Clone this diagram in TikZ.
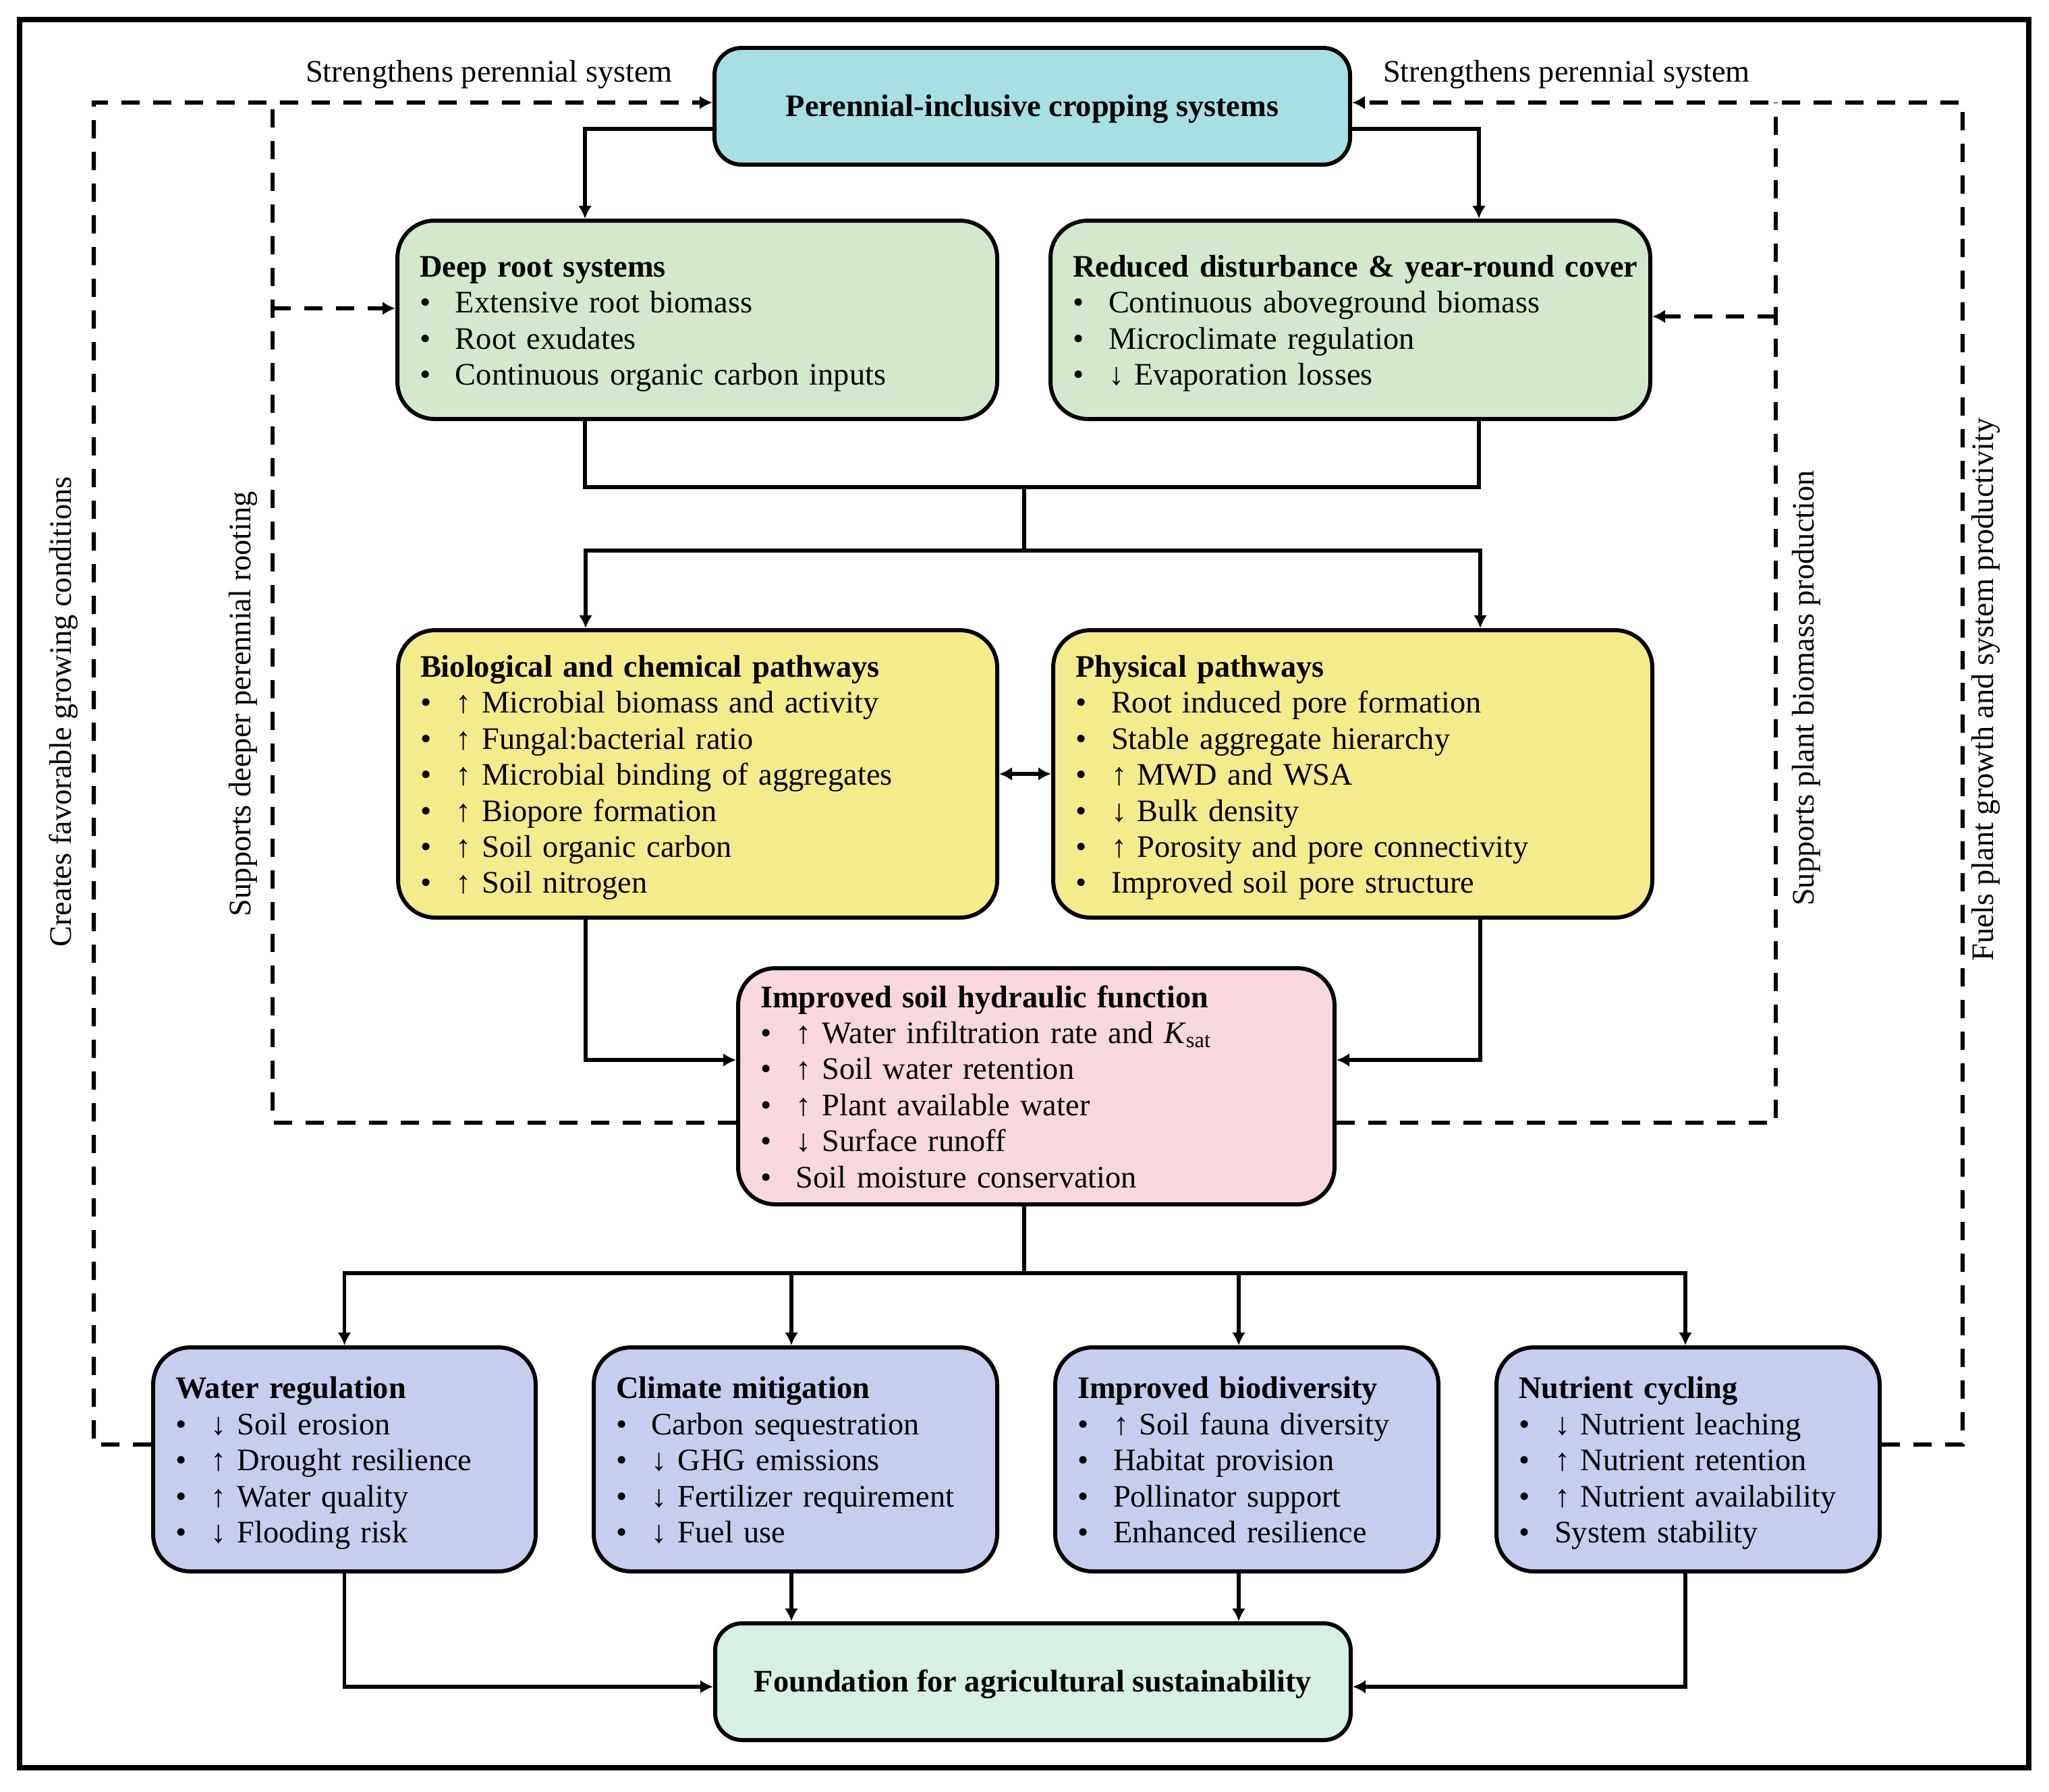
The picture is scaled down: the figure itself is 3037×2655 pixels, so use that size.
\documentclass[tikz,border=0pt]{standalone}
\usepackage{fontspec}
\setmainfont{Liberation Serif}
\usetikzlibrary{arrows.meta}
\definecolor{topc}{RGB}{167,223,226}
\definecolor{greenc}{RGB}{212,232,204}
\definecolor{yellc}{RGB}{244,235,141}
\definecolor{pinkc}{RGB}{248,215,221}
\definecolor{bluec}{RGB}{199,205,238}
\definecolor{foundc}{RGB}{214,240,227}
\newcommand{\itm}{\makebox[5.3mm][l]{\textbullet}}
\newcommand{\up}{↑ }
\newcommand{\dn}{↓ }
\newcommand{\fs}{\fontsize{13.2}{15.2}\selectfont}
\newcommand{\hd}[1]{\mbox{\textbf{#1}}}
\begin{document}
\begin{tikzpicture}[x=0.1mm,y=-0.1mm,
  box/.style={draw, line width=1.7pt, rounded corners=5.5mm, inner xsep=3.3mm, inner ysep=0pt,
    align=left, font=\fs, execute at begin node=\rule{0pt}{14pt}, execute at end node=\strut},
  tbox/.style={draw, line width=1.7pt, rounded corners=4mm, inner sep=0pt,
    align=center, font=\fs\bfseries, execute at begin node=\rule{0pt}{11.5pt}},
  lbl/.style={inner sep=0pt, font=\fs},
  tip/.tip={Latex[length=1.9mm,width=2mm]},
  conn/.style={line width=1.45pt, -tip},
  bconn/.style={line width=1.45pt, tip-tip},
  plain/.style={line width=1.45pt},
  dsh/.style={line width=1.8pt, dash pattern=on 2.7mm off 2mm},
  dsharr/.style={line width=1.8pt, dash pattern=on 2.7mm off 2mm, -tip}
]
\useasboundingbox (0,0) rectangle (3037,2655);
\draw[line width=2.2pt] (29,29) rectangle (3007,2620);

% boxes
\node[tbox, fill=topc, minimum width=94.2mm, minimum height=17.3mm] (top) at (1530,157.5)
  {Perennial-inclusive cropping systems};
\node[box, fill=greenc, minimum width=88.9mm, minimum height=29.4mm, text width=82.3mm] (deep) at (1033.5,474)
  {\hd{Deep root systems}\\
   \itm Extensive root biomass\\
   \itm Root exudates\\
   \itm Continuous organic carbon inputs};
\node[box, fill=greenc, minimum width=88.9mm, minimum height=29.4mm, text width=82.3mm] (red) at (2001.5,474)
  {\hd{Reduced disturbance \& year-round cover}\\
   \itm Continuous aboveground biomass\\
   \itm Microclimate regulation\\
   \itm \dn Evaporation losses};
\node[box, fill=yellc, minimum width=88.8mm, minimum height=42.6mm, text width=82.2mm] (bio) at (1034,1147)
  {\hd{Biological and chemical pathways}\\
   \itm \up Microbial biomass and activity\\
   \itm \up Fungal:bacterial ratio\\
   \itm \up Microbial binding of aggregates\\
   \itm \up Biopore formation\\
   \itm \up Soil organic carbon\\
   \itm \up Soil nitrogen};
\node[box, fill=yellc, minimum width=88.8mm, minimum height=42.6mm, text width=82.2mm] (phys) at (2005,1147)
  {\hd{Physical pathways}\\
   \itm Root induced pore formation\\
   \itm Stable aggregate hierarchy\\
   \itm \up MWD and WSA\\
   \itm \dn Bulk density\\
   \itm \up Porosity and pore connectivity\\
   \itm Improved soil pore structure};
\node[box, fill=pinkc, minimum width=88.4mm, minimum height=35mm, text width=81.8mm] (pink) at (1536,1610)
  {\hd{Improved soil hydraulic function}\\
   \itm \up Water infiltration rate and \textit{K}\textsubscript{sat}\\
   \itm \up Soil water retention\\
   \itm \up Plant available water\\
   \itm \dn Surface runoff\\
   \itm Soil moisture conservation};
\node[box, fill=bluec, minimum width=56.7mm, minimum height=33.2mm, text width=50.1mm] (water) at (510.5,2163)
  {\hd{Water regulation}\\
   \itm \dn Soil erosion\\
   \itm \up Drought resilience\\
   \itm \up Water quality\\
   \itm \dn Flooding risk};
\node[box, fill=bluec, minimum width=59.8mm, minimum height=33.2mm, text width=53.2mm] (clim) at (1179,2163)
  {\hd{Climate mitigation}\\
   \itm Carbon sequestration\\
   \itm \dn GHG emissions\\
   \itm \dn Fertilizer requirement\\
   \itm \dn Fuel use};
\node[box, fill=bluec, minimum width=56.8mm, minimum height=33.2mm, text width=50.2mm] (biod) at (1848,2163)
  {\hd{Improved biodiversity}\\
   \itm \up Soil fauna diversity\\
   \itm Habitat provision\\
   \itm Pollinator support\\
   \itm Enhanced resilience};
\node[box, fill=bluec, minimum width=56.8mm, minimum height=33.2mm, text width=50.2mm] (nutr) at (2502,2163)
  {\hd{Nutrient cycling}\\
   \itm \dn Nutrient leaching\\
   \itm \up Nutrient retention\\
   \itm \up Nutrient availability\\
   \itm System stability};
\node[tbox, fill=foundc, minimum width=94.2mm, minimum height=17.3mm] (found) at (1531,2492.5)
  {Foundation for agricultural sustainability};

% labels
\node[lbl] (s1) at (725,110) {Strengthens perennial system};
\node[lbl] (s2) at (2322,110) {Strengthens perennial system};
\node[lbl, rotate=90] (c1) at (94,1055) {Creates favorable growing conditions};
\node[lbl, rotate=90] (c2) at (360,1043) {Supports deeper perennial rooting};
\node[lbl, rotate=90] (c3) at (2677,1020) {Supports plant biomass production};
\node[lbl, rotate=90] (c4) at (2943,1022) {Fuels plant growth and system productivity};

% solid connectors
\draw[conn] ([yshift=-3.35mm]top.west) -| ([xshift=-16.65mm]deep.north);
\draw[conn] ([yshift=-3.35mm]top.east) -| ([xshift=19.05mm]red.north);
\coordinate (j1) at (1518,722);
\coordinate (j2) at (1518,816);
\draw[plain] ([xshift=-16.65mm]deep.south) |- (j1);
\draw[plain] ([xshift=19.05mm]red.south) |- (j1);
\draw[plain] (j1) -- (j2);
\draw[conn] (j2) -| ([xshift=-16.6mm]bio.north);
\draw[conn] (j2) -| ([xshift=18.9mm]phys.north);
\draw[bconn] (bio.east) -- (phys.west);
\draw[conn] ([xshift=-16.6mm]bio.south) |- ([yshift=3.9mm]pink.west);
\draw[conn] ([xshift=18.9mm]phys.south) |- ([yshift=3.9mm]pink.east);
\coordinate (j3) at (1518,1887);
\draw[plain] (j3 |- pink.south) -- (j3);
\draw[conn] (j3) -| (water.north);
\draw[conn] (j3) -| ([xshift=-0.6mm]clim.north);
\draw[conn] (j3) -| ([xshift=-1.2mm]biod.north);
\draw[conn] (j3) -| ([xshift=-0.4mm]nutr.north);
\coordinate (cb) at ([xshift=-0.6mm]clim.south);
\coordinate (bb) at ([xshift=-1.2mm]biod.south);
\draw[conn] (cb) -- (cb |- found.north);
\draw[conn] (bb) -- (bb |- found.north);
\draw[conn] (water.south) |- ([yshift=-0.75mm]found.west);
\draw[conn] ([xshift=-0.4mm]nutr.south) |- ([yshift=-0.75mm]found.east);

% dashed feedback loops
\coordinate (oL) at (139,152);
\coordinate (iL) at (404,152);
\coordinate (iR) at (2632,152);
\coordinate (oR) at (2909,152);
\coordinate (iLb) at (404,457);
\coordinate (iRb) at (2632,469);
\draw[dsharr] ([yshift=2.2mm]water.west) -| (oL) -- ([yshift=0.55mm]top.west);
\draw[dsharr] ([yshift=2.2mm]nutr.east) -| (oR) -- ([yshift=0.55mm]top.east);
\draw[dsh] ([yshift=-5.4mm]pink.west) -| (iL);
\draw[dsh] ([yshift=-5.4mm]pink.east) -| (iR);
\draw[dsharr] (iLb) -- (iLb -| deep.west);
\draw[dsharr] (iRb) -- (iRb -| red.east);
\end{tikzpicture}
\end{document}
